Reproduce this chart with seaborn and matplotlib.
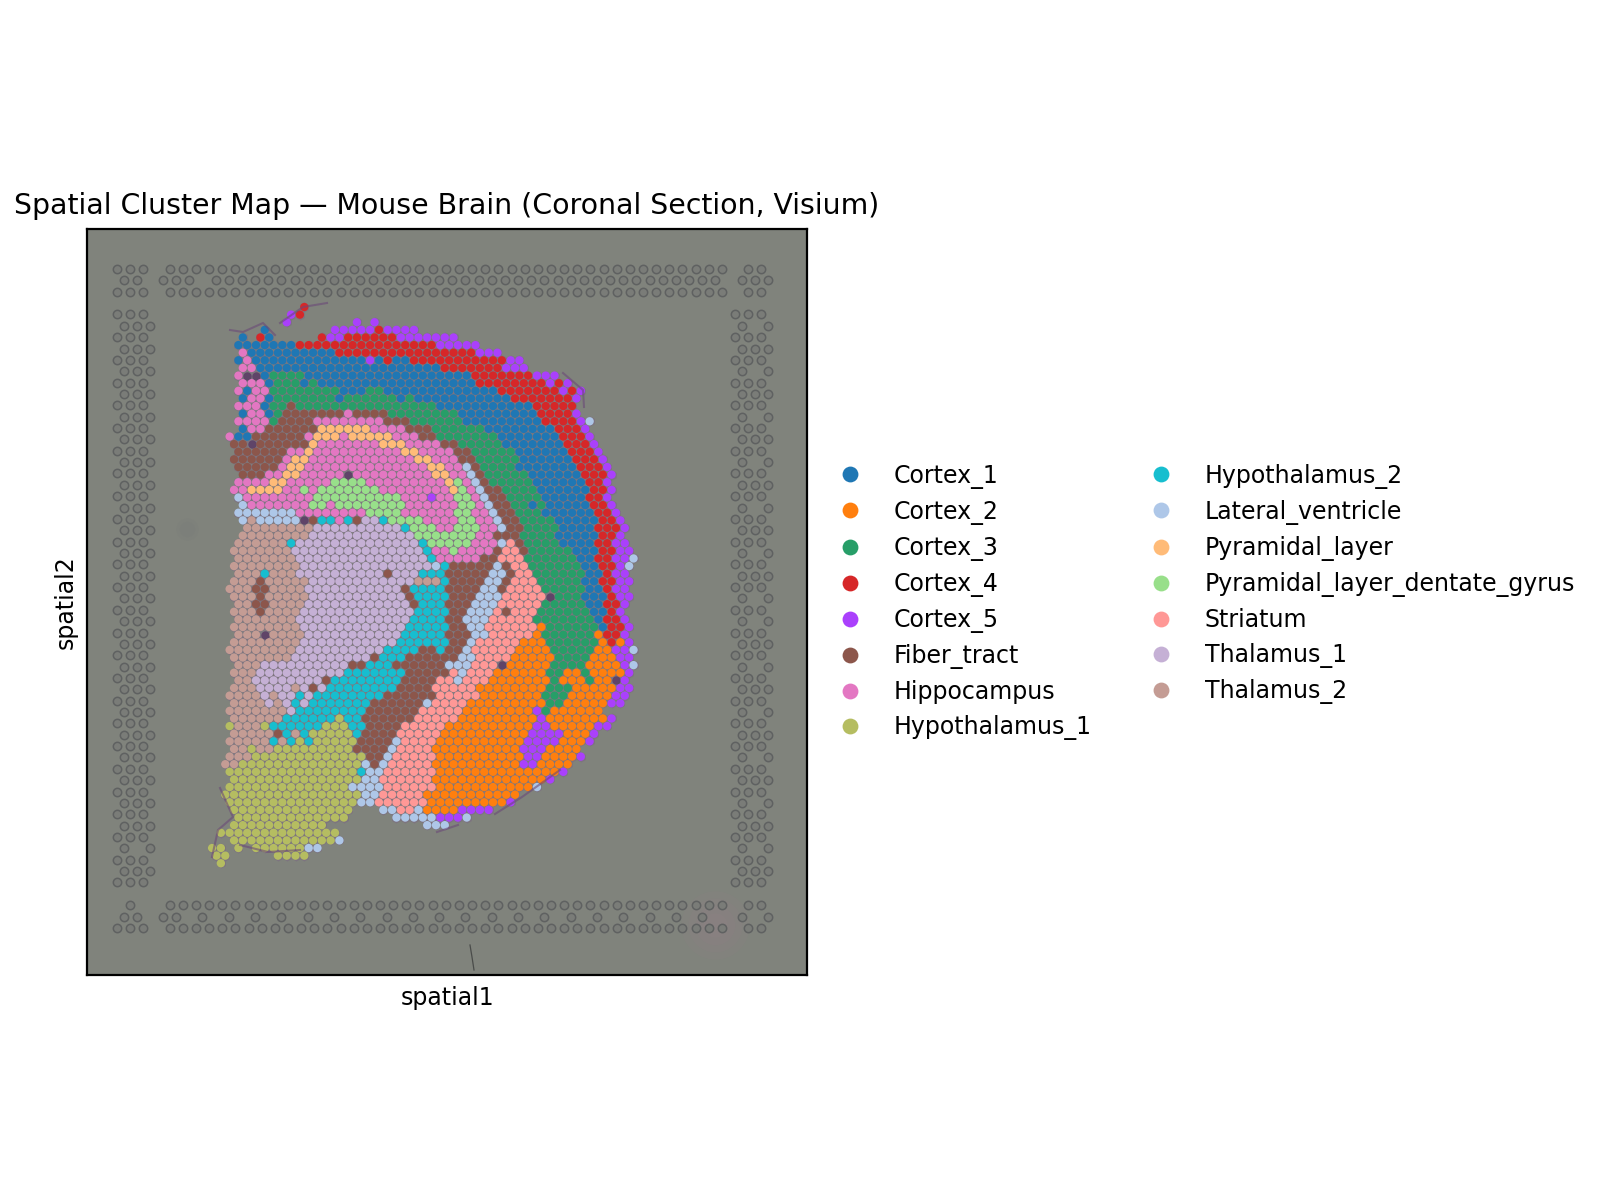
import re

import matplotlib.pyplot as plt
import pandas as pd
import seaborn as sns

CLUSTERS = ['Cortex_1', 'Cortex_2', 'Cortex_3', 'Cortex_4', 'Cortex_5',
            'Fiber_tract', 'Hippocampus', 'Hypothalamus_1', 'Hypothalamus_2',
            'Lateral_ventricle', 'Pyramidal_layer',
            'Pyramidal_layer_dentate_gyrus', 'Striatum', 'Thalamus_1',
            'Thalamus_2']
COLORS = ['#1f77b4', '#ff7f0e', '#279e68', '#d62728', '#aa40fc', '#8c564b',
          '#e377c2', '#b5bd61', '#17becf', '#aec7e8', '#ffbb78', '#98df8a',
          '#ff9896', '#c5b0d5', '#c49c94']
CODES = 'abcdefghijklmno'

# one entry per array row, "first-last + cluster code", '.' is tissue with no spot
SPOT_ROWS = [
    '11d',
    '9e 10d',
    '9e 17e 19e',
    '6a 14-18e 19d 20-23e',
    '4a 6d 7a 13d 14-15e 16-21d 22-28e',
    '3-9a 10-25d 26-30e',
    '4g 5-14a 15-30d 31-33e',
    '3a 4g 5-17a 18e 19a 20d 21-22a 23-33d 34-35e',
    '4-5g 6-26a 27-33d 34-36e',
    '3g 4-5. 6a 7-10c 11-29a 30-36d 37-39e',
    '4-6g 7a 8-10c 11a 12c 13-30a 31-38d 39e 40d 41e',
    '3g 4a 5-6g 7-14c 15-17a 18-19c 20-32a 33-39d 40e 41d 42e',
    '4a 5-6g 7a 8-14c 15a 16-21c 22a 23c 24-34a 35-41d 42e',
    '3-5g 6a 7-8c 9f 10-25c 26-36a 37-41d',
    '4a 5-6g 7a 8c 9-15f 16g 17-20f 21-28c 29-37a 38-41d 42e',
    '3-6g 7c 8-11f 12-19g 20-22f 23-28c 29-37a 38-41d 42e 43j',
    '4a 5-6g 7-12f 13-18k 19-22g 23-25f 26-31c 32-39a 40-42d 43e',
    '2g 3-4a 5-10f 11g 12-14k 15g 16-20k 21-23g 24-25f 26-32c 33-39a 40-42d 43e',
    '3-4f 5. 6-11f 12k 13-19g 20-22k 23-26g 27-28f 29-33c 34-40a 41-43d 44e',
    '3-8f 9-10g 11k 12-21g 22-23k 24-27g 28-29f 30-34c 35-40a 41-43d 44e',
    '3-8f 9g 10-11k 12-23g 24-25k 26-28g 29-30f 31-35c 36-41a 42-44d 45e',
    '3-7f 8g 9-10k 11-24g 25-26k 27-28g 29j 30f 31-34c 35-41a 42-44d 45e',
    '4-6f 7-8g 9-10k 11-15g 16. 17-25g 26-27k 28-29g 30j 31f 32-36c 37-42a 43-45d 46e',
    '3-6g 7-8k 9-13g 14-17l 18-26g 27k 28l 29g 30j 31f 32-36c 37-42a 43-44d 45e',
    '3-4g 5-8k 9-10g 11l 12g 13-19l 20-27g 28k 29l 30g 31j 32-33f 34-37c 38-43a 44-45d 46e',
    '3j 4-11g 12-21l 22-24g 25e 26-27g 28-29l 30g 31j 32-33f 34-37c 38-42a 43-44d 45e',
    '4j 5-11g 12-13l 14g 15-22l 23-28g 29-30l 31g 32j 33-34f 35-36c 37a 38c 39-43a 44-45d 46e',
    '3-9j 10-17g 18-21l 22-27g 28-29l 30-31g 32j 33-34f 35-37c 38-43a 44-45d 46e',
    '4j 5o 6-10j 11. 12f 13-14i 15g 16i 17f 18-19n 20i 21-24l 25-28g 29-30l 31-32g 33j 34-35f 36-39c 40-44a 45-46d 47e',
    '4-11o 12-21n 22i 23-25l 26-27g 28-30l 31-32g 33j 34-35f 36-39c 40-43a 44-46d 47e',
    '4-11o 12-23n 24-30l 31-32g 33-35f 36-39c 40-44a 45-46d 47e',
    '3-8o 9i 10-23n 24i 25-29l 30-32g 33j 34m 35f 36-39c 40-43a 44-45d 46-47e',
    '3-9o 10-24n 25i 26-27g 28l 29-32g 33f 34-35m 36f 37-41c 42-44a 45-46d 47-48e',
    '3-9o 10-24n 25i 26-30g 31-32f 33-35m 36-41c 42-43a 44-45d 46-47e 48j',
    '3-10o 11-25n 26j 27i 28-32f 33j 34f 35-36m 37-42c 43-44a 45-46d 47e 48j',
    '3-5o 6i 7-9o 10-19n 20f 21-23n 24-26i 27-31f 32-33j 34f 35-36m 37-42c 43-44a 45d 46-47e',
    '3-5o 6f 7-11o 12-23n 24-26o 27i 28-31f 32-33j 34f 35-37m 38-42c 43-44a 45-46d 47-48e',
    '2-4o 5-6f 7-10o 11-21n 22f 23-26i 27-30f 31-32j 33f 34-37m 38-42c 43-44a 45d 46-47e',
    '3-5o 6f 7-11o 12-22n 23f 24-27i 28-30f 31-33j 34-38m 39. 40-42c 43-45a 46d 47-48e',
    '3-4o 5-6f 7-10o 11-22n 23f 24-26i 27-29f 30-32j 33-37m 38-42c 43-44a 45-46d 47e',
    '3-5o 6f 7-10o 11-23n 24-27i 28-29f 30-32j 33m 34f 35-37m 38-43c 44-45a 46d 47e',
    '3-9o 10-22n 23-26i 27-28f 29-31j 32-36m 37-43c 44a 45-46d 47e',
    '3-10o 11-22n 23-27i 28-29f 30-31j 32-37m 38b 39-44c 45a 46-47d 48e',
    '3-5o 6. 7-10o 11-21n 22-26i 27-29f 30-31j 32-36m 37b 38-43c 44b 45-46d 47e',
    '3-10o 11-21n 22-27i 28-29f 30j 31-35m 36-38b 39-44c 45b 46d 47b 48e',
    '2-9o 10-19n 20-23i 24-25f 26i 27-28f 29j 30-34m 35-38b 39-43c 44-45b 46-47e 48j',
    '3-9o 10-18n 19f 20-22i 23-28f 29-30j 31-34m 35-39b 40-43c 44-46b 47-48e',
    '3-5o 6-15n 16-17f 18-20i 21-26f 27-29j 30-32m 33. 34-38b 39-42c 43-46b 47e 48j',
    '3-5o 6-15n 16-22i 23-27f 28m 29j 30-32m 33-38b 39-40c 41-42b 43c 44-47b 48e',
    '3-4o 5-12n 13f 14-21i 22-25f 26-27m 28j 29-31m 32-38b 39c 40-42b 43c 44-45b 46. 47e',
    '3-5o 6-9n 10o 11n 12f 13n 14-21i 22-25f 26-30m 31-38b 39-41c 42-46b 47-48e',
    '2-5o 6n 7o 8-9n 10i 11n 12-19i 20-25f 26-30m 31-37b 38-40c 41-45b 46-47e',
    '3-6o 7n 8o 9n 10i 11n 12-18i 19-24f 25j 26-29m 30-38b 39-40c 41-45b 46-47e',
    '2-8o 9n 10-17i 18-23f 24-28m 29-36b 37e 38c 39-44b',
    '3-8o 9-14i 15h 16-17i 18-23f 24-28m 29-37b 38e 39-45b 46e',
    '2h 3-5o 6h 7-12i 13-15h 16-17i 18-21f 22-26m 27-36b 37-38e 39-43b 44-45e',
    '3-7o 8f 9i 10o 11i 12-16h 17i 18-21f 22-26m 27-36b 37-40e 41-43b 44e',
    '2-6o 7i 8o 9i 10h 11i 12-16h 17-20f 21j 22-25m 26-35b 36-39e 40-42b 43e',
    '3-4o 5h 6-7o 8-16h 17-20f 21j 22-25m 26-35b 36-38e 39-42b',
    '2-4o 5-17h 18-19f 20j 21-25m 26-35b 36-37e 38-41b 42e',
    '2-3o 4-17h 18j 19f 20j 21-25m 26-35b 36-37e 38-41b',
    '2-16h 17i 18-19j 20-25m 26-39b 40e',
    '3-17h 18-19j 20-25m 26-38b 39e',
    '2-15h 16-19j 20-25m 26-36b 37j',
    '2-17h 18-19j 20-24m 25-35b',
    '2-16h 17-18j 19-24m 25-33b 34e',
    '3-16h 20-21j 22-23m 24j 25-28b 29-32e',
    '3-15h 21-25j 26-28e 29j',
    '3-13h 25-27j',
    '1-14h',
    '3-14h 15j',
    '0-1h 3h 5-10h 11-12j',
    '1-2h 8-11h',
    '1h',
]

# capture-area frame printed on the slide
FIDUCIAL_ROWS = [
    '0-2 4-46 48-49', '0-1 3-5 7-45 47-49', '0-2 4-46 48-49', '',
    '0-2 47-49', '0-2 47 49', '0-2 47-49', '0-2 47-49',
    '0-2 47-49', '0-2 47 49', '0-2 47-49', '0-2 47-49',
    '0-2 47-49', '0-2 47 49', '0-2 47-49', '0-2 47-49',
    '0-2 47-49', '0-2 47 49', '0-2 47-49', '0-2 47-49',
    '0-2 47-49', '0-2 47 49', '0-2 47-49', '0-2 47-49',
    '0-2 47-49', '0-2 47 49', '0-2 47-49', '0-2 47-49',
    '0-2 47-49', '0-2 47 49', '0-2 47-49', '0-2 47 49',
    '0-2 47-49', '0-2 47-49', '0-2 47-49', '0-2 47 49',
    '0-2 47-49', '0-2 47-49', '0-2 47-49', '0-2 47 49',
    '0-2 47-49', '0-2 47-49', '0-2 47-49', '0-2 47 49',
    '0-2 47-49', '0-2 47-49', '0-2 47-49', '0-2 47 49',
    '0-2 47-49', '0-2 47-49', '0-2 47-49', '0 2 47 49',
    '0-2 47-49', '0-2 47-49', '0-2 47-49', '',
    '1 4-46 48-49',
    '0-1 3-4 6 8 10 12 14 16 18 20 22 24 26 28 30 32 34 36 38 40 42 44 47 49',
    '0-2 4-46 48-49',
]

# torn tissue rim outside the spots, image pixels
RIM_X = [[230, 243, 263, 275], [280, 303, 327], [563, 583, 584],
         [560, 522, 495], [458, 437], [220, 233, 218, 212], [240, 268, 300]]
RIM_Y = [[330, 332, 323, 335], [323, 307, 303], [373, 390, 407],
         [770, 797, 814], [825, 832], [788, 817, 830, 857], [845, 852, 850]]
CRACK_X = [470, 472, 474]
CRACK_Y = [945, 957, 970]


def read_rows(rows, x0, dx, y0, dy):
    out = []
    for r, row in enumerate(rows):
        for first, last, code in re.findall(r'(\d+)(?:-(\d+))?([a-o.]?)', row):
            for c in range(int(first), int(last or first) + 1):
                out.append((x0 + dx * (c + 0.5 * (r % 2)), y0 + dy * r, code))
    return pd.DataFrame(out, columns=['spatial1', 'spatial2', 'code'])


grid = read_rows(SPOT_ROWS, 207.7, 8.78, 307, 7.62)
frame = read_rows(FIDUCIAL_ROWS, 117, 13.15, 269, 11.36)
spots = grid[grid['code'] != '.'].copy()
spots['cluster'] = [CLUSTERS[CODES.index(k)] for k in spots['code']]
holes = grid[grid['code'] == '.']

fig = plt.figure(figsize=(16, 12), dpi=100)
ax = fig.add_axes([87 / 1600, 1 - 975 / 1200, 720 / 1600, 746 / 1200])
ax.set_facecolor('#80837c')

# stains on the slide, stacked so the edge stays soft
for size in [2400, 1500, 800, 300]:
    ax.scatter([715], [925], s=size, color='#c080a0', alpha=0.045, linewidth=0)
for size in [260, 120]:
    ax.scatter([187], [529], s=size, color='#666c78', alpha=0.07, linewidth=0)

sns.scatterplot(data=frame, x='spatial1', y='spatial2', color='#7a7c78', s=36,
                edgecolor='#5f6161', linewidth=1.1, legend=False, ax=ax)
for rim_x, rim_y in zip(RIM_X, RIM_Y):
    sns.lineplot(x=rim_x, y=rim_y, sort=False, estimator=None, color='#6b4a78',
                 linewidth=1.5, alpha=0.6, ax=ax)
sns.lineplot(x=CRACK_X, y=CRACK_Y, sort=False, estimator=None, color='#4a4c4a',
             linewidth=0.9, ax=ax)
sns.scatterplot(data=grid, x='spatial1', y='spatial2', color='#7d7480', marker='h',
                s=53, linewidth=0, legend=False, ax=ax)
sns.scatterplot(data=holes, x='spatial1', y='spatial2', color='#5f4468', s=36,
                linewidth=0, legend=False, ax=ax)
sns.scatterplot(data=spots, x='spatial1', y='spatial2', hue='cluster',
                hue_order=CLUSTERS, palette=COLORS, s=36, linewidth=0, ax=ax)

ax.set_xlim(87, 807)
ax.set_ylim(975, 229)
ax.set_xticks([])
ax.set_yticks([])
ax.set_xlabel('spatial1', fontsize=17, labelpad=8)
ax.set_ylabel('spatial2', fontsize=17, labelpad=7)
ax.set_title('Spatial Cluster Map — Mouse Brain (Coronal Section, Visium)',
             fontsize=20.4, pad=10.5)
for side in ax.spines.values():
    side.set_linewidth(1.6)

sns.move_legend(ax, 'center left', bbox_to_anchor=(0.997, 0.5), ncol=2, frameon=False,
                title=None, fontsize=17, markerscale=1.9, labelspacing=0.47,
                columnspacing=1.95, handletextpad=0.85)

fig.savefig('out.png', dpi=100)
